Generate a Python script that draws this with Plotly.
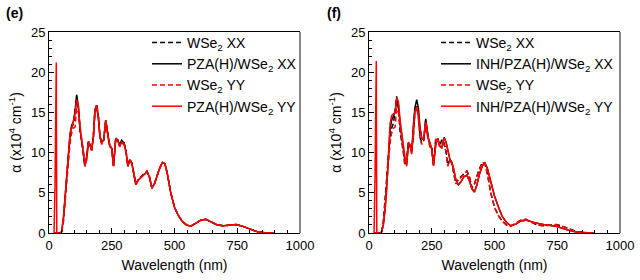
import plotly.graph_objects as go

# ---- data ----
wavelength = [20, 24, 29, 31, 40, 45, 50, 57, 64, 70,
              77, 84, 90, 97, 104, 110, 117, 124, 130, 137,
              143, 150, 157, 163, 170, 177, 183, 190, 197, 203,
              210, 218, 226, 234, 242, 250, 257, 266, 274, 282,
              290, 299, 307, 314, 322, 330, 337, 346, 356, 367,
              378, 390, 400, 410, 420, 430, 440, 452, 462, 472,
              485, 500, 515, 530, 548, 565, 585, 605, 625, 645,
              670, 695, 720, 745, 770, 800, 830, 860, 895]

tail_pristine = [5.0, 3.2, 2.2, 1.5, 1.0, 0.85, 1.2, 1.6, 1.7, 1.4,
                 1.0, 0.9, 1.0, 1.05, 0.85, 0.45, 0.15, 0.04, 0.0]

wse2_xx = [0, 0, 0, 0, 0, 0, 0.1, 1.4, 4.2, 7.0,
           9.6, 12.0, 13.0, 13.6, 15.0, 17.0, 15.5, 12.6, 11.5, 10.0,
           8.4, 9.2, 11.3, 11.0, 10.2, 12.2, 15.3, 16.0, 14.5, 12.0,
           11.2, 11.5, 14.0, 12.3, 10.9, 10.5, 8.4, 11.8, 11.6, 10.9,
           11.6, 11.2, 10.2, 8.4, 9.2, 8.7, 7.5, 6.1, 6.7, 7.0,
           7.3, 7.7, 7.0, 5.6, 6.1, 7.1, 8.0, 8.8, 8.6, 7.3] + tail_pristine

wse2_yy = [0, 0, 0, 0, 0, 0, 0.1, 1.2, 3.8, 6.3,
           8.8, 11.2, 12.4, 13.0, 13.2, 15.5, 15.0, 12.8, 11.8, 10.2,
           8.6, 9.0, 11.2, 10.9, 10.3, 12.0, 15.0, 15.6, 14.2, 11.8,
           11.0, 11.6, 13.8, 12.2, 10.8, 10.2, 8.3, 11.7, 11.4, 10.7,
           11.2, 11.0, 10.0, 8.3, 9.1, 8.6, 7.4, 6.1, 6.6, 6.9,
           7.3, 7.7, 7.0, 5.6, 6.1, 7.1, 8.0, 8.8, 8.6, 7.3] + tail_pristine

pza_xx = [0, 0, 0, 0, 0, 0, 0.1, 1.6, 4.3, 7.0,
          9.8, 12.2, 13.4, 13.8, 15.2, 17.2, 15.8, 12.8, 11.6, 10.1,
          8.3, 9.5, 11.4, 11.0, 10.3, 12.0, 15.2, 15.9, 14.3, 12.0,
          11.2, 11.6, 14.0, 12.3, 10.9, 10.5, 8.3, 11.8, 11.5, 10.8,
          11.5, 11.2, 10.1, 8.3, 9.1, 8.7, 7.4, 6.0, 6.6, 6.9,
          7.3, 7.6, 7.0, 5.6, 6.1, 7.1, 8.0, 8.8, 8.6, 7.3] + tail_pristine

pza_yy = [0, 6, 21.2, 0, 0, 0, 0.2, 1.8, 4.5, 7.0,
          9.8, 12.5, 13.0, 14.0, 14.8, 16.6, 15.8, 13.0, 11.5, 10.0,
          8.3, 9.5, 11.4, 11.0, 10.3, 12.0, 15.2, 15.9, 14.3, 12.0,
          11.2, 11.6, 14.0, 12.3, 10.9, 10.5, 8.3, 11.8, 11.5, 10.8,
          11.3, 11.1, 10.1, 8.3, 9.1, 8.7, 7.4, 6.0, 6.6, 6.9,
          7.3, 7.6, 7.0, 5.6, 6.1, 7.1, 8.0, 8.8, 8.6, 7.3] + tail_pristine

tail_inh = [6.3, 4.6, 3.3, 2.1, 1.3, 0.9, 1.1, 1.5, 1.6, 1.4,
            1.2, 1.05, 0.95, 0.85, 0.6, 0.3, 0.1, 0.02, 0.0]

inh_xx = [0, 0, 0, 0, 0, 0, 0.1, 1.0, 3.0, 5.5,
          9.0, 12.8, 14.0, 14.5, 15.0, 16.6, 16.0, 13.5, 12.0, 10.5,
          9.0, 8.5, 11.0, 10.8, 10.0, 13.5, 15.6, 16.6, 15.5, 13.2,
          11.8, 11.6, 14.2, 12.0, 11.2, 10.5, 8.5, 11.0, 11.8, 10.8,
          10.6, 11.9, 11.3, 10.2, 9.2, 8.8, 8.0, 6.6, 6.0, 6.4,
          7.0, 7.2, 6.5, 5.5, 5.1, 6.0, 7.3, 8.4, 8.7, 8.0] + tail_inh

inh_yy = [0, 7, 21.4, 0, 0, 0, 0.1, 1.0, 2.8, 5.0,
          9.5, 13.6, 14.6, 14.8, 15.0, 16.8, 16.4, 14.0, 12.4, 11.0,
          9.5, 8.3, 11.3, 11.0, 9.8, 13.0, 15.0, 15.7, 14.8, 13.0,
          11.8, 11.6, 13.8, 12.0, 11.2, 10.5, 8.5, 11.0, 11.8, 10.8,
          10.6, 11.8, 11.3, 10.2, 9.2, 8.8, 8.0, 6.6, 6.0, 6.4,
          7.0, 7.2, 6.5, 5.5, 5.1, 6.0, 7.3, 8.4, 8.7, 8.0] + tail_inh

x_ticks = [0, 250, 500, 750, 1000]
y_ticks = [0, 5, 10, 15, 20, 25]

FONT = "Arial, Liberation Sans, sans-serif"
RED = "#ff0000"
BLACK = "#000000"

panels = [
    ("x", "y", "legend", [
        ("WSe<sub>2</sub> XX", wse2_xx, BLACK, "5px,3px"),
        ("PZA(H)/WSe<sub>2</sub> XX", pza_xx, BLACK, "solid"),
        ("WSe<sub>2</sub> YY", wse2_yy, RED, "5px,3px"),
        ("PZA(H)/WSe<sub>2</sub> YY", pza_yy, RED, "solid"),
    ]),
    ("x2", "y2", "legend2", [
        ("WSe<sub>2</sub> XX", wse2_xx, BLACK, "5px,3px"),
        ("INH/PZA(H)/WSe<sub>2</sub> XX", inh_xx, BLACK, "solid"),
        ("WSe<sub>2</sub> YY", wse2_yy, RED, "5px,3px"),
        ("INH/PZA(H)/WSe<sub>2</sub> YY", inh_yy, RED, "solid"),
    ]),
]

fig = go.Figure()
for xa, ya, lg, series in panels:
    for name, vals, col, dash in series:
        fig.add_trace(go.Scatter(
            x=wavelength, y=vals, mode="lines", name=name,
            line=dict(color=col, width=1.5, dash=dash),
            xaxis=xa, yaxis=ya, legend=lg))

W, H = 640, 280
dom_x1 = [49 / W, 300 / W]
dom_x2 = [369 / W, 620 / W]
dom_y = [47 / H, 248 / H]

def xax(dom, anchor):
    return dict(domain=dom, anchor=anchor, range=[0, 1000], tickvals=x_ticks,
                ticks="inside", ticklen=5, tickcolor=BLACK, showline=True,
                linecolor=BLACK, linewidth=1, mirror=True, showgrid=False,
                zeroline=False, automargin=False, tickfont=dict(size=13, color=BLACK),
                minor=dict(dtick=50, ticks="inside", ticklen=3, tickcolor=BLACK),
                title=dict(text="Wavelength (nm)", font=dict(size=14, color=BLACK), standoff=8))

def yax(anchor):
    return dict(domain=dom_y, anchor=anchor, range=[0, 25], tickvals=y_ticks,
                ticks="inside", ticklen=5, tickcolor=BLACK, showline=True,
                linecolor=BLACK, linewidth=1, mirror=False, showgrid=False,
                zeroline=False, automargin=False, tickfont=dict(size=13, color=BLACK),
                minor=dict(dtick=1, ticks="inside", ticklen=3, tickcolor=BLACK),
                title=dict(text="α (x10<sup>4</sup> cm<sup>-1</sup>)",
                           font=dict(size=14, color=BLACK), standoff=6))

legend_style = dict(font=dict(size=14, color=BLACK, family=FONT), bgcolor="rgba(0,0,0,0)",
                    xanchor="left", yanchor="top", tracegroupgap=0)

fig.update_layout(
    width=W, height=H, margin=dict(l=0, r=0, t=0, b=0, autoexpand=False),
    paper_bgcolor="white", plot_bgcolor="white",
    font=dict(family=FONT, color=BLACK),
    xaxis=xax(dom_x1, "y"), yaxis=yax("x"),
    xaxis2=xax(dom_x2, "y2"), yaxis2=yax("x2"),
    legend=dict(x=147 / W, y=1 - 27 / H, **legend_style),
    legend2=dict(x=436 / W, y=1 - 27 / H, **legend_style),
    showlegend=True,
    shapes=[
        dict(type="line", xref="x domain", yref="y domain", x0=1, x1=1, y0=0, y1=1,
             line=dict(color="#888888", width=2)),
        dict(type="line", xref="x2 domain", yref="y2 domain", x0=1, x1=1, y0=0, y1=1,
             line=dict(color="#888888", width=2)),
    ],
    annotations=[
        dict(text="<b>(e)</b>", x=4 / W, y=1 - 3 / H, xref="paper", yref="paper",
             xanchor="left", yanchor="top", showarrow=False, font=dict(size=14, color=BLACK)),
        dict(text="<b>(f)</b>", x=325 / W, y=1 - 3 / H, xref="paper", yref="paper",
             xanchor="left", yanchor="top", showarrow=False, font=dict(size=14, color=BLACK)),
    ],
)

fig.write_html("out.html", config={"displayModeBar": False},
               post_script="document.body.style.margin='0';")
